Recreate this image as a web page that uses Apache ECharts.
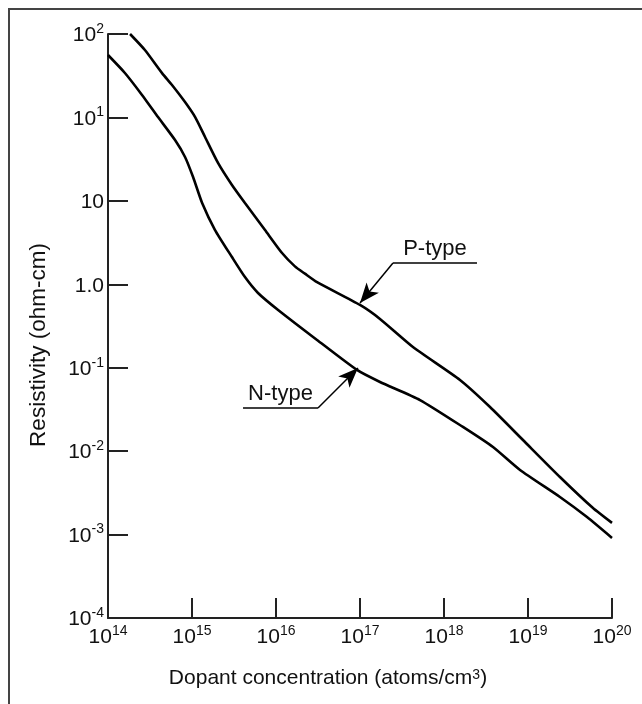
<!DOCTYPE html>
<html>
<head>
<meta charset="utf-8">
<script src="https://cdn.jsdelivr.net/npm/echarts@6/dist/echarts.min.js"></script>
<style>
  html, body { margin: 0; padding: 0; background: #fff; }
  #chart { width: 642px; height: 704px; }
</style>
</head>
<body>
<div id="chart"></div>
<script>
// values (y axis runs 7 decades, labelled as in the original)
const pTypeConc = [1.83e14, 2.75e14, 4.4e14, 5.78e14, 8.26e14, 1.09e15, 1.43e15, 2.04e15, 2.99e15, 4.27e15, 7.4e15, 1.18e16, 1.68e16, 2.21e16, 3.08e16, 1.0e17, 1.73e17, 4.27e17, 1.55e18, 3.53e18, 8.71e18, 2.4e19, 5.94e19, 1.0e20]
const pTypeRes = [1000, 643, 340, 245, 153, 101, 58.3, 28.5, 15.5, 9.42, 4.47, 2.37, 1.64, 1.34, 1.06, 0.565, 0.384, 0.177, 0.0713, 0.0338, 0.0136, 0.0049, 0.00208, 0.00138]

const nTypeConc = [1.0e14, 1.59e14, 2.54e14, 3.94e14, 6.28e14, 8.26e14, 1.03e15, 1.32e15, 1.88e15, 2.99e15, 4.27e15, 6.11e15, 1.06e16, 3.08e16, 9.2e16, 1.73e17, 5.18e17, 1.68e18, 3.83e18, 8.04e18, 2.4e19, 5.04e19, 1.0e20]
const nTypeRes = [560, 341, 186, 101, 53.6, 33.6, 19.3, 9.42, 4.47, 2.12, 1.22, 0.787, 0.492, 0.215, 0.094, 0.0675, 0.041, 0.0195, 0.0112, 0.00594, 0.00282, 0.00162, 0.00091]

// y tick labels from 1e-4 up to 1e3 (the picture repeats a decade)
const yTickBase = ['10', '10', '10', '10', '1.0', '10', '10', '10']
const yTickSup = ['-4', '-3', '-2', '-1', '', '', '1', '2']

// callouts: underline [left, right], leader [from, arrow tip]
const pTypeUnderline = [[2.47e17, 1.80], [2.47e18, 1.80]]
const pTypeLeader = [[2.47e17, 1.80], [1.0e17, 0.597]]
const nTypeUnderline = [[4.05e15, 0.0329], [3.16e16, 0.0329]]
const nTypeLeader = [[3.16e16, 0.0329], [9.46e16, 0.0993]]

const FONT = 'Liberation Sans, Arial, sans-serif'
const INK = '#111'

const supRich = {
  b: { fontSize: 21, fontFamily: FONT, color: INK, lineHeight: 24, verticalAlign: 'bottom' },
  s: { fontSize: 14, fontFamily: FONT, color: INK, lineHeight: 14, verticalAlign: 'top' }
}

const zip = (xs, ys) => xs.map((x, i) => [x, ys[i]])

function callout(underline, leader, text) {
  return [
    [{ coord: underline[0], label: { show: true, formatter: text } }, { coord: underline[1] }],
    [{ coord: leader[0], symbol: 'none', label: { show: false } }, { coord: leader[1], symbol: 'arrow' }]
  ]
}

function curve(name, xs, ys, underline, leader) {
  return {
    name,
    type: 'line',
    data: zip(xs, ys),
    smooth: 0.2,
    showSymbol: false,
    lineStyle: { color: '#000', width: 2.6 },
    markLine: {
      silent: true,
      symbol: ['none', 'none'],
      symbolSize: [12, 20],
      lineStyle: { color: '#000', width: 1.5, type: 'solid' },
      label: { position: 'insideMiddleTop', distance: 3, fontSize: 22, color: INK, fontFamily: FONT },
      data: callout(underline, leader, name)
    }
  }
}

const chart = echarts.init(document.getElementById('chart'))

chart.setOption({
  animation: false,
  backgroundColor: '#fff',
  textStyle: { fontFamily: FONT },
  graphic: [{
    type: 'rect',
    shape: { x: 9, y: 9, width: 720, height: 740 },
    style: { fill: 'none', stroke: '#444', lineWidth: 2 },
    silent: true
  }],
  grid: { left: 108, right: 30, top: 34, bottom: 86 },
  xAxis: {
    type: 'log',
    logBase: 10,
    min: 1e14,
    max: 1e20,
    splitNumber: 6,
    axisLine: { lineStyle: { color: '#222', width: 2 } },
    axisTick: { inside: true, length: 20, lineStyle: { color: '#222', width: 2 } },
    splitLine: { show: false },
    axisLabel: {
      margin: 6,
      rich: supRich,
      formatter: v => '{b|10}{s|' + Math.round(Math.log10(v)) + '}'
    },
    name: 'Dopant concentration (atoms/cm{s|3})',
    nameLocation: 'middle',
    nameGap: 50,
    nameTextStyle: { fontSize: 21, fontFamily: FONT, color: INK, padding: [0, 64, 0, 0], rich: { s: supRich.s } }
  },
  yAxis: {
    type: 'log',
    logBase: 10,
    min: 1e-4,
    max: 1e3,
    splitNumber: 7,
    axisLine: { lineStyle: { color: '#222', width: 2 } },
    axisTick: { inside: true, length: 20, lineStyle: { color: '#222', width: 2 } },
    splitLine: { show: false },
    axisLabel: {
      margin: 4,
      rich: supRich,
      formatter: v => {
        const i = Math.round(Math.log10(v)) + 4
        return '{b|' + yTickBase[i] + '}' + (yTickSup[i] ? '{s|' + yTickSup[i] + '}' : '')
      }
    },
    name: 'Resistivity (ohm-cm)',
    nameLocation: 'middle',
    nameGap: 58,
    nameTextStyle: { fontSize: 22.5, fontFamily: FONT, color: INK, padding: [0, 38, 0, 0] }
  },
  series: [
    curve('P-type', pTypeConc, pTypeRes, pTypeUnderline, pTypeLeader),
    curve('N-type', nTypeConc, nTypeRes, nTypeUnderline, nTypeLeader)
  ]
})
</script>
</body>
</html>
